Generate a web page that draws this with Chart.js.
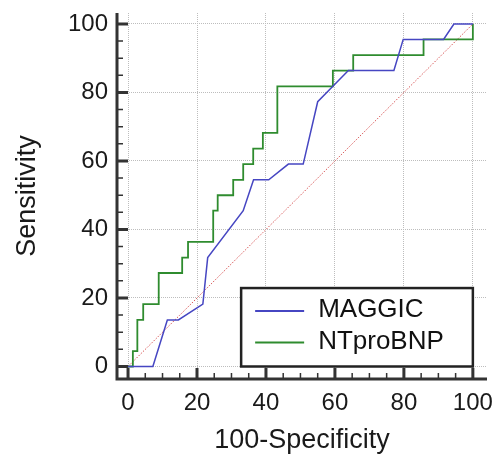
<!DOCTYPE html>
<html>
<head>
<meta charset="UTF-8">
<title>ROC</title>
<script src="https://cdn.jsdelivr.net/npm/chart.js@4.4.0/dist/chart.umd.min.js"></script>
<style>
  * { margin: 0; padding: 0; }
  body { background: #fff; }
  canvas { display: block; }
</style>
</head>
<body>
<canvas id="roc" width="502" height="458"></canvas>
<script>
// ROC curves (x = 100-Specificity, y = Sensitivity)
const maggicX = [0, 7.2, 11.4, 14.6, 21.7, 23.1, 33.4, 36.4, 40.8, 46.5, 50.8, 55.0, 59.4, 63.9, 77.1, 79.8, 91.5, 94.5, 100];
const maggicY = [0, 0, 13.6, 13.6, 18.2, 31.8, 45.5, 54.5, 54.5, 59.1, 59.1, 77.3, 81.8, 86.4, 86.4, 95.5, 95.5, 100, 100];

// step points: horizontal to x, then up to y
const ntX = [0, 1.4, 2.7, 4.4, 8.9, 15.7, 17.4, 24.7, 26.0, 30.5, 33.4, 36.3, 39.1, 43.3, 59.4, 65.3, 85.7, 100];
const ntY = [0, 4.5, 13.6, 18.2, 27.3, 31.8, 36.4, 45.5, 50.0, 54.5, 59.1, 63.6, 68.2, 81.8, 86.4, 90.9, 95.5, 100];

const refX = [0, 100];
const refY = [0, 100];

const xTicks = [0, 20, 40, 60, 80, 100];
const yTicks = [0, 20, 40, 60, 80, 100];
const minorStep = 5;

const FONT = "'Liberation Sans', Arial, sans-serif";
const pts = (xs, ys) => xs.map((x, i) => ({ x, y: ys[i] }));

// spines + inward ticks
const axesFrame = {
  id: 'axesFrame',
  afterDraw(chart) {
    const { ctx, chartArea: a, scales: { x, y } } = chart;
    ctx.save();
    ctx.strokeStyle = '#333';
    ctx.lineCap = 'butt';
    ctx.lineWidth = 3;
    ctx.beginPath();
    ctx.moveTo(a.left, a.top);
    ctx.lineTo(a.left, a.bottom);
    ctx.lineTo(a.right, a.bottom);
    ctx.stroke();
    for (let v = 0; v <= 100; v += minorStep) {
      const major = v % 20 === 0;
      const len = major ? 11 : 6;
      ctx.lineWidth = major ? 3 : 1.5;
      const px = x.getPixelForValue(v);
      const py = y.getPixelForValue(v);
      ctx.beginPath();
      ctx.moveTo(px, a.bottom);
      ctx.lineTo(px, a.bottom - len);
      ctx.moveTo(a.left, py);
      ctx.lineTo(a.left + len, py);
      ctx.stroke();
    }
    ctx.restore();
  }
};

// boxed legend in lower right
const boxLegend = {
  id: 'boxLegend',
  afterDraw(chart) {
    const { ctx, scales: { x, y } } = chart;
    const l = x.getPixelForValue(32.8), r = x.getPixelForValue(100);
    const t = y.getPixelForValue(22.9), b = y.getPixelForValue(0);
    ctx.save();
    ctx.fillStyle = '#fff';
    ctx.fillRect(l, t, r - l, b - t);
    ctx.strokeStyle = '#222';
    ctx.lineWidth = 2.5;
    ctx.strokeRect(l, t, r - l, b - t);
    ctx.font = '26px ' + FONT;
    ctx.textBaseline = 'middle';
    ctx.fillStyle = '#111';
    chart.data.datasets.slice(0, 2).forEach((ds, i) => {
      const cy = t + 23 + i * 31.5;
      ctx.strokeStyle = ds.borderColor;
      ctx.lineWidth = 2;
      ctx.beginPath();
      ctx.moveTo(l + 14, cy);
      ctx.lineTo(l + 63, cy);
      ctx.stroke();
      ctx.fillText(ds.label, l + 77, cy - 1);
    });
    ctx.restore();
  }
};

new Chart(document.getElementById('roc'), {
  type: 'line',
  data: {
    datasets: [
      { label: 'MAGGIC', data: pts(maggicX, maggicY), borderColor: '#4646c2', borderWidth: 1.5, pointRadius: 0, tension: 0 },
      { label: 'NTproBNP', data: pts(ntX, ntY), borderColor: '#2f8c2f', borderWidth: 1.8, pointRadius: 0, stepped: 'before' },
      { label: 'ref', data: pts(refX, refY), borderColor: '#d85858', borderWidth: 1, borderDash: [1.5, 1.5], pointRadius: 0 }
    ]
  },
  options: {
    responsive: false,
    animation: false,
    devicePixelRatio: 1,
    layout: { padding: { top: 13, right: 15, left: 0, bottom: 0 } },
    plugins: { legend: { display: false }, tooltip: { enabled: false } },
    scales: {
      x: {
        type: 'linear', min: -3.2, max: 104.1,
        afterBuildTicks: s => { s.ticks = xTicks.map(v => ({ value: v })); },
        afterFit: s => { s.height = 79; s.paddingLeft = 0; s.paddingRight = 0; },
        ticks: { color: '#1a1a1a', font: { family: FONT, size: 24 }, padding: 10, maxRotation: 0, includeBounds: false },
        grid: { color: '#bdbdbd', lineWidth: 1, drawTicks: false },
        border: { display: false, dash: [1, 1] },
        title: { display: true, text: '100-Specificity', color: '#1a1a1a', font: { family: FONT, size: 27 }, padding: { top: 0, bottom: 1 } }
      },
      y: {
        type: 'linear', min: -3.65, max: 103.2,
        afterBuildTicks: s => { s.ticks = yTicks.map(v => ({ value: v })); },
        afterFit: s => { s.width = 117; s.paddingTop = 0; s.paddingBottom = 0; },
        ticks: { color: '#1a1a1a', font: { family: FONT, size: 24 }, padding: 9, includeBounds: false },
        grid: { color: '#bdbdbd', lineWidth: 1, drawTicks: false },
        border: { display: false, dash: [1, 1] },
        title: { display: true, text: 'Sensitivity', color: '#1a1a1a', font: { family: FONT, size: 27 }, padding: { top: 11, bottom: 0 } }
      }
    }
  },
  plugins: [axesFrame, boxLegend]
});
</script>
</body>
</html>
